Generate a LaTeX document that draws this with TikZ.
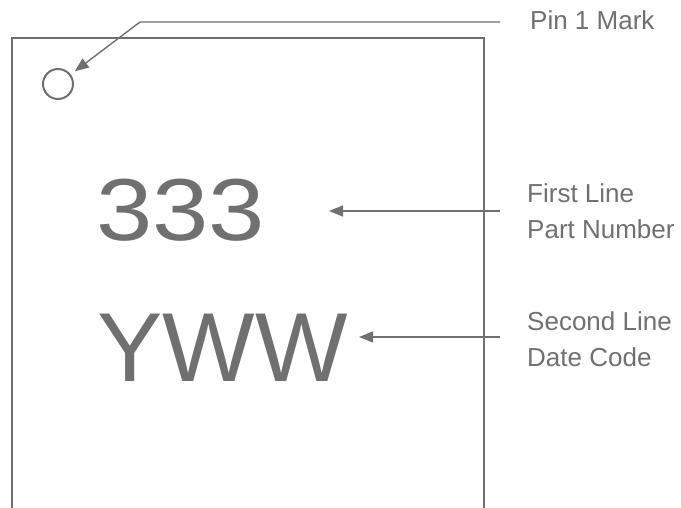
\documentclass[tikz,border=0pt]{standalone}
\usepackage{fontspec}
\setmainfont{Liberation Sans}
\usetikzlibrary{arrows.meta}
\definecolor{markgray}{RGB}{112,112,112}
\tikzset{
  lead/.style={draw=markgray,line width=1.4pt},
  arr/.style={lead,-{Triangle[length=14pt,width=11pt]}},
  lbl/.style={text=markgray,inner sep=0pt,font=\fontsize{26}{36}\selectfont,align=left},
  big/.style={text=markgray,inner sep=0pt,anchor=base west,font=\fontsize{98}{100}\selectfont}
}
\begin{document}
\begin{tikzpicture}[x=1pt,y=-1pt]
\useasboundingbox (0,0) rectangle (681,507);
\draw[markgray,line width=2pt] (11.5,510) -- (11.5,37.5) -- (483.5,37.5) -- (483.5,510);
\node[circle,draw=markgray,line width=2pt,minimum size=30pt,inner sep=0pt] (pin) at (58,84) {};
\node[big,font=\fontsize{88}{90}\selectfont,xscale=1.15] (num) at (96,240) {333};
\node[big] (code) at (97,381) {YWW};
\node[lbl,anchor=base west] (pinlbl) at (530,29) {Pin 1 Mark};
\node[lbl,anchor=west] (partlbl) at (527,211) {First Line\\Part Number};
\node[lbl,anchor=west] (datelbl) at (527,339) {Second Line\\Date Code};
\coordinate (pinend) at (500,22);
\coordinate (pinbend) at (140,22);
\coordinate (partend) at (500,211);
\coordinate (parttip) at (329,211);
\coordinate (dateend) at (500,337);
\coordinate (datetip) at (359,337);
\draw[arr,shorten >=5pt] (pinend) -- (pinbend) -- (pin);
\draw[arr] (partend) -- (parttip);
\draw[arr] (dateend) -- (datetip);
\end{tikzpicture}
\end{document}
